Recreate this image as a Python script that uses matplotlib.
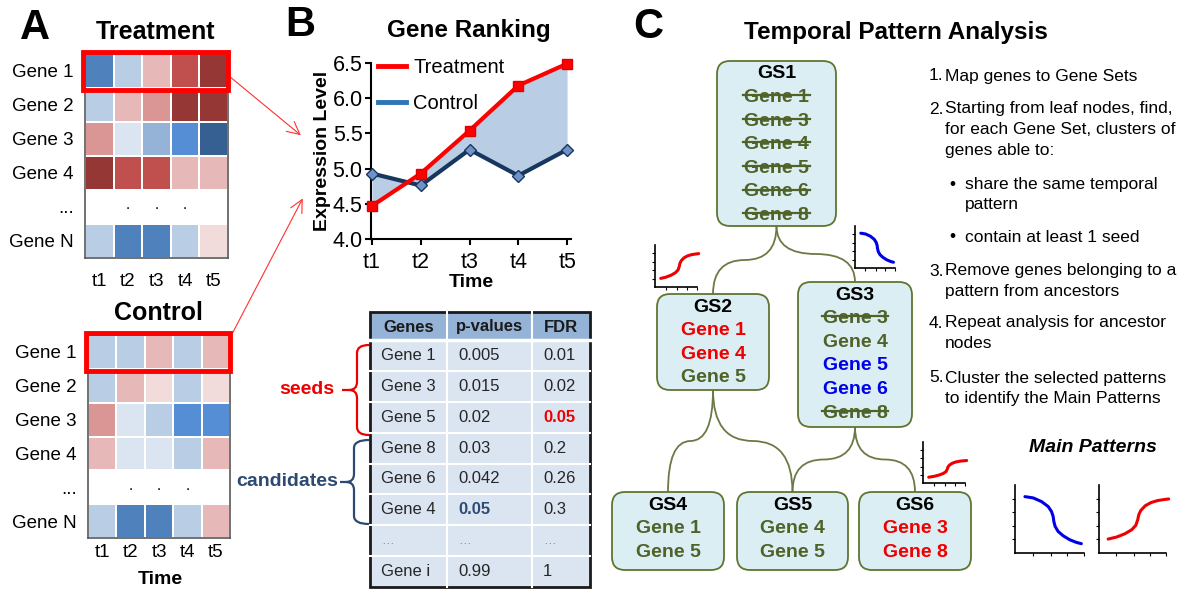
import numpy as np
import matplotlib
matplotlib.use('Agg')
import matplotlib.pyplot as plt
from matplotlib.colors import ListedColormap, BoundaryNorm
from matplotlib.patches import Rectangle, FancyBboxPatch, PathPatch
from matplotlib.path import Path
from matplotlib.lines import Line2D

plt.rcParams['font.family'] = ['Liberation Sans', 'DejaVu Sans']

# --- data ---
time_labels = ['t1', 't2', 't3', 't4', 't5']
gene_rows = ['Gene 1', 'Gene 2', 'Gene 3', 'Gene 4', '...', 'Gene N']
nan = np.nan
# expression level classes, -5 (dark blue) .. 5 (dark red)
treat_heat = [[-4, -1, 2, 4, 5],
              [-1, 2, 3, 5, 5],
              [3, 0, -2, -3, -5],
              [5, 4, 4, 2, 2],
              [nan, nan, nan, nan, nan],
              [-1, -4, -4, -1, 1]]
ctrl_heat = [[-1, -1, 2, -1, 2],
             [-1, 2, 1, -1, 1],
             [3, 0, -1, -3, -3],
             [2, 0, 0, -1, 2],
             [nan, nan, nan, nan, nan],
             [-1, -4, -4, -1, 2]]
heat_colors = ['#376092', '#4F81BD', '#558ED5', '#95B3D7', '#B9CDE5', '#DBE5F1',
               '#F2DCDB', '#E6B9B8', '#D99694', '#C0504D', '#953735']

treat_expr = [4.47, 4.93, 5.54, 6.18, 6.49]
ctrl_expr = [4.93, 4.76, 5.27, 4.90, 5.27]

table_header = ['Genes', 'p-values', 'FDR']
table_genes = ['Gene 1', 'Gene 3', 'Gene 5', 'Gene 8', 'Gene 6', 'Gene 4', '...', 'Gene i']
table_p = ['0.005', '0.015', '0.02', '0.03', '0.042', '0.05', '...', '0.99']
table_fdr = ['0.01', '0.02', '0.05', '0.2', '0.26', '0.3', '...', '1']

# gene sets: gene name + status (x = removed, r = red pattern, b = blue pattern, g = plain)
gs_names = ['GS1', 'GS2', 'GS3', 'GS4', 'GS5', 'GS6']
gs_genes = [['Gene 1', 'Gene 3', 'Gene 4', 'Gene 5', 'Gene 6', 'Gene 8'],
            ['Gene 1', 'Gene 4', 'Gene 5'],
            ['Gene 3', 'Gene 4', 'Gene 5', 'Gene 6', 'Gene 8'],
            ['Gene 1', 'Gene 5'],
            ['Gene 4', 'Gene 5'],
            ['Gene 3', 'Gene 8']]
gs_status = [['x', 'x', 'x', 'x', 'x', 'x'],
             ['r', 'r', 'g'],
             ['x', 'g', 'b', 'b', 'x'],
             ['g', 'g'],
             ['g', 'g'],
             ['r', 'r']]
gs_edges = [(0, 1), (0, 2), (1, 3), (1, 4), (2, 4), (2, 5)]

# temporal pattern shapes (axes fractions)
up_x = [0.136, 0.261, 0.387, 0.487, 0.548, 0.578, 0.593, 0.623, 0.688, 0.774, 0.874, 0.965, 1.04]
up_y = [0.205, 0.234, 0.283, 0.341, 0.405, 0.488, 0.561, 0.624, 0.693, 0.741, 0.771, 0.785, 0.795]
down_x = [0.144, 0.264, 0.385, 0.481, 0.529, 0.553, 0.563, 0.582, 0.625, 0.697, 0.793, 0.889, 0.962]
down_y = [0.829, 0.810, 0.756, 0.683, 0.610, 0.537, 0.463, 0.390, 0.317, 0.254, 0.195, 0.156, 0.137]

steps = [('1.', ['Map genes to Gene Sets']),
         ('2.', ['Starting from leaf nodes, find,', 'for each Gene Set, clusters of', 'genes able to:']),
         ('•', ['share the same temporal', 'pattern']),
         ('•', ['contain at least 1 seed']),
         ('3.', ['Remove genes belonging to a', 'pattern from ancestors']),
         ('4.', ['Repeat analysis for ancestor', 'nodes']),
         ('5.', ['Cluster the selected patterns', 'to identify the Main Patterns'])]

RED = '#EE0000'
BLUE = '#0000E6'
GREEN = '#4F6228'
NAVY = '#2C4A72'

W, H = 1200, 600
fig = plt.figure(figsize=(12, 6), dpi=100)


def px(x0, y0, x1, y1):
    return [x0 / W, 1 - y1 / H, (x1 - x0) / W, (y1 - y0) / H]


ax0 = fig.add_axes([0, 0, 1, 1])
ax0.set_xlim(0, W)
ax0.set_ylim(H, 0)
ax0.axis('off')

# ---------------- panel A ----------------
cmap = ListedColormap(heat_colors)
norm = BoundaryNorm(np.arange(-5.5, 6.5, 1), cmap.N)


def heatmap(rect, data, pad):
    ax = fig.add_axes(px(*rect))
    m = np.ma.masked_invalid(np.array(data, dtype=float))
    ax.pcolormesh(m, cmap=cmap, norm=norm, edgecolors='white', linewidth=1.2)
    ax.set_xlim(0, 5)
    ax.set_ylim(6, 0)
    ax.set_xticks(np.arange(5) + 0.5, time_labels)
    ax.set_yticks(np.arange(6) + 0.5, gene_rows)
    ax.tick_params(axis='x', length=0, labelsize=13.5, pad=pad)
    ax.tick_params(axis='y', length=0, labelsize=13.5, pad=8)
    for s in ax.spines.values():
        s.set_color('#595959')
        s.set_linewidth(1.2)
    for j in (1, 2, 3):
        ax.text(j + 0.5, 4.45, '.', ha='center', va='center', fontsize=11)
    ax.add_patch(Rectangle((-0.06, -0.07), 5.06, 1.14, fill=False, ec='#FF0000',
                           lw=3.5, clip_on=False, zorder=5))
    return ax


heatmap((85, 54, 228, 258), treat_heat, 11)
heatmap((88, 335, 230, 538), ctrl_heat, 4.5)

ax0.text(35, 28, 'A', fontsize=30, fontweight='bold', ha='center', va='center')
ax0.text(156, 32, 'Treatment', fontsize=18, fontweight='bold', ha='center', va='center')
ax0.text(158, 313, 'Control', fontsize=18, fontweight='bold', ha='center', va='center')
ax0.text(160, 580, 'Time', fontsize=14, fontweight='bold', ha='center', va='center')

arrow = dict(arrowstyle='->,head_length=0.9,head_width=0.45', color='#FF3030', lw=0.8)
ax0.annotate('', xy=(303, 137), xytext=(229, 76), arrowprops=arrow)
ax0.annotate('', xy=(304, 196), xytext=(231, 336), arrowprops=arrow)

# ---------------- panel B ----------------
ax0.text(300, 25, 'B', fontsize=30, fontweight='bold', ha='center', va='center')
ax0.text(469, 31, 'Gene Ranking', fontsize=17.5, fontweight='bold', ha='center', va='center')

axb = fig.add_axes(px(371, 63, 571, 239))
xs = np.arange(len(time_labels))
axb.fill_between(xs, treat_expr, ctrl_expr, color='#B9CDE5', lw=0)
axb.plot(xs, ctrl_expr, color='#17375E', lw=3, marker='D', ms=6, mfc='#6F93C8',
         mec='#17375E', mew=1, clip_on=False, zorder=3)
axb.plot(xs, treat_expr, color='#FF0000', lw=3, marker='s', ms=7, mfc='#FF0000',
         mec='#E00000', clip_on=False, zorder=4)
axb.set_xlim(-0.02, 4.08)
axb.set_ylim(4.0, 6.5)
axb.set_xticks(xs, time_labels)
yt = np.arange(4.0, 6.51, 0.5)
axb.set_yticks(yt, [f'{v:.1f}' for v in yt])
axb.tick_params(labelsize=15.5, direction='out', length=4, width=1.5)
axb.tick_params(axis='x', pad=5)
axb.tick_params(axis='y', pad=2)
for s in ['top', 'right']:
    axb.spines[s].set_visible(False)
for s in ['left', 'bottom']:
    axb.spines[s].set_linewidth(1.5)
axb.set_ylabel('Expression Level', fontsize=14, fontweight='bold', labelpad=1)
axb.set_xlabel('Time', fontsize=14, fontweight='bold', labelpad=1)
axb.legend([Line2D([], [], color='#FF0000', lw=3.5), Line2D([], [], color='#2E75B6', lw=3.5)],
           ['Treatment', 'Control'], loc='upper left', bbox_to_anchor=(0.035, 1.03),
           borderaxespad=0, borderpad=0, frameon=False, fontsize=14.5,
           handlelength=1.4, handletextpad=0.35, labelspacing=0.85)

# table
col_x = [370, 447, 532, 590]
head_top, head_bot, tab_bot = 312, 340, 587
row_h = (tab_bot - head_bot) / len(table_genes)
ax0.add_patch(Rectangle((col_x[0], head_top), col_x[-1] - col_x[0], head_bot - head_top,
                        fc='#95B3D7', ec='none'))
ax0.add_patch(Rectangle((col_x[0], head_bot), col_x[-1] - col_x[0], tab_bot - head_bot,
                        fc='#DBE5F1', ec='none'))
for i in range(1, len(table_genes)):
    ax0.plot([col_x[0], col_x[-1]], [head_bot + i * row_h] * 2, color='white', lw=1.5)
ax0.plot([col_x[0], col_x[-1]], [head_bot, head_bot], color='white', lw=2.5)
for cx in col_x[1:-1]:
    ax0.plot([cx, cx], [head_top, tab_bot], color='white', lw=1.5)
ax0.add_patch(Rectangle((col_x[0], head_top), col_x[-1] - col_x[0], tab_bot - head_top,
                        fill=False, ec='#1A1A1A', lw=2))
for j, h in enumerate(table_header):
    ax0.text((col_x[j] + col_x[j + 1]) / 2, (head_top + head_bot) / 2 + 1, h, fontsize=12,
             fontweight='bold', ha='center', va='center', color='#1A1A1A')
text_x = [381, 458, 543]
for i in range(len(table_genes)):
    yc = head_bot + (i + 0.5) * row_h
    for j, col in enumerate([table_genes, table_p, table_fdr]):
        val = col[i]
        kw = dict(fontsize=12, ha='left', va='center', color='#262626')
        if val == '...':
            kw.update(color='#808080', fontsize=9)
            val = '…'
        if j == 2 and i == 2:
            kw.update(color=RED, fontweight='bold')
        if j == 1 and i == 5:
            kw.update(color=NAVY, fontweight='bold')
        ax0.text(text_x[j], yc, val, **kw)


def brace(x_end, y_top, y_bot, x_spine, x_tip, color, r=8):
    ym = (y_top + y_bot) / 2
    verts = [(x_end, y_top), (x_spine, y_top), (x_spine, y_top + r),
             (x_spine, ym - r), (x_spine, ym), (x_spine - r, ym),
             (x_tip, ym),
             (x_spine - r, ym), (x_spine, ym), (x_spine, ym + r),
             (x_spine, y_bot - r), (x_spine, y_bot), (x_end, y_bot)]
    codes = [Path.MOVETO, Path.CURVE3, Path.CURVE3,
             Path.LINETO, Path.CURVE3, Path.CURVE3,
             Path.LINETO,
             Path.MOVETO, Path.CURVE3, Path.CURVE3,
             Path.LINETO, Path.CURVE3, Path.CURVE3]
    ax0.add_patch(PathPatch(Path(verts, codes), fc='none', ec=color, lw=1.6))


brace(369, 345, 435, 357, 342, RED)
brace(369, 440, 524, 354, 340, NAVY)
ax0.text(334, 390, 'seeds', fontsize=14, fontweight='bold', color=RED, ha='right', va='center')
ax0.text(338, 482, 'candidates', fontsize=14, fontweight='bold', color=NAVY, ha='right', va='center')

# ---------------- panel C ----------------
ax0.text(648, 27, 'C', fontsize=30, fontweight='bold', ha='center', va='center')
ax0.text(896, 32, 'Temporal Pattern Analysis', fontsize=17.5, fontweight='bold',
         ha='center', va='center')

gs_boxes = [(717, 61, 836, 226), (657, 294, 769, 390), (798, 282, 912, 427),
            (612, 492, 724, 570), (737, 492, 848, 570), (859, 492, 971, 570)]

# connectors
for p, c in gs_edges:
    bx0, by0, bx1, by1 = gs_boxes[p]
    cx0, cy0, cx1, cy1 = gs_boxes[c]
    P = ((bx0 + bx1) / 2, by1)
    C = ((cx0 + cx1) / 2, cy0)
    M = ((P[0] + C[0]) / 2, (P[1] + C[1]) / 2)
    verts = [P, (P[0], M[1]), M, (C[0], M[1]), C]
    codes = [Path.MOVETO, Path.CURVE3, Path.CURVE3, Path.CURVE3, Path.CURVE3]
    ax0.add_patch(PathPatch(Path(verts, codes), fc='none', ec='#6B7A45', lw=1.3, zorder=1))

struck = []
status_color = {'x': GREEN, 'g': GREEN, 'r': RED, 'b': BLUE}
for k, (x0, y0, x1, y1) in enumerate(gs_boxes):
    ax0.add_patch(FancyBboxPatch((x0, y0), x1 - x0, y1 - y0,
                                 boxstyle='round,pad=0,rounding_size=13',
                                 fc='#DBEEF3', ec='#5F7530', lw=1.3, zorder=2))
    cx = (x0 + x1) / 2
    ax0.text(cx, y0 + 13, gs_names[k], fontsize=14, fontweight='bold', ha='center',
             va='center', color='black', zorder=3)
    for i, (g, st) in enumerate(zip(gs_genes[k], gs_status[k])):
        t = ax0.text(cx, y0 + 13 + (i + 1) * 23.6, g, fontsize=14, fontweight='bold',
                     ha='center', va='center', color=status_color[st], zorder=3)
        if st == 'x':
            struck.append(t)

fig.canvas.draw()
inv = ax0.transData.inverted()
for t in struck:
    bb = t.get_window_extent()
    (xa, ya), (xb, yb) = inv.transform([(bb.x0, bb.y0), (bb.x1, bb.y1)])
    ym = (ya + yb) / 2 - 2.5
    ax0.plot([xa - 1, xb + 1], [ym, ym], color=GREEN, lw=1.6, zorder=4)


def pattern(rect, xs_, ys_, color, ylim=(0, 1)):
    ax = fig.add_axes(px(*rect))
    ax.plot(xs_, ys_, color=color, lw=2.2, clip_on=False, solid_capstyle='round')
    ax.set_xlim(0, 1)
    ax.set_ylim(*ylim)
    for s in ['top', 'right']:
        ax.spines[s].set_visible(False)
    for s in ['left', 'bottom']:
        ax.spines[s].set_linewidth(1.2)
    ax.set_xticks([0.26, 0.52, 0.76, 1.0])
    ax.set_yticks([v * (ylim[1] - ylim[0]) for v in (0.2, 0.4, 0.6, 0.8)])
    ax.tick_params(direction='out', length=2, width=0.8, labelbottom=False, labelleft=False)
    ax.patch.set_alpha(0)


pattern((655, 245, 697, 287), up_x, up_y, RED)
pattern((855, 226, 895, 268), down_x, down_y, BLUE)
pattern((923, 442, 965, 483), up_x, up_y, RED, ylim=(0, 1.45))
pattern((1015, 485, 1084, 553), down_x, down_y, BLUE)
pattern((1099, 485, 1166, 553), up_x, up_y, RED)

ax0.text(1093, 447, 'Main Patterns', fontsize=14, fontweight='bold', style='italic',
         ha='center', va='center')

# step list
step_y = [76, 109, 184, 237, 271, 323, 378]
line_gap = 20.7
for (mark, lines), y in zip(steps, step_y):
    if mark == '•':
        ax0.text(949, y, mark, fontsize=12.5, ha='left', va='center')
        tx = 965
    else:
        ax0.text(929, y, mark, fontsize=12.5, ha='left', va='center')
        tx = 945
    for i, ln in enumerate(lines):
        ax0.text(tx, y + i * line_gap, ln, fontsize=12.5, ha='left', va='center')

fig.savefig('out.png', dpi=100)
